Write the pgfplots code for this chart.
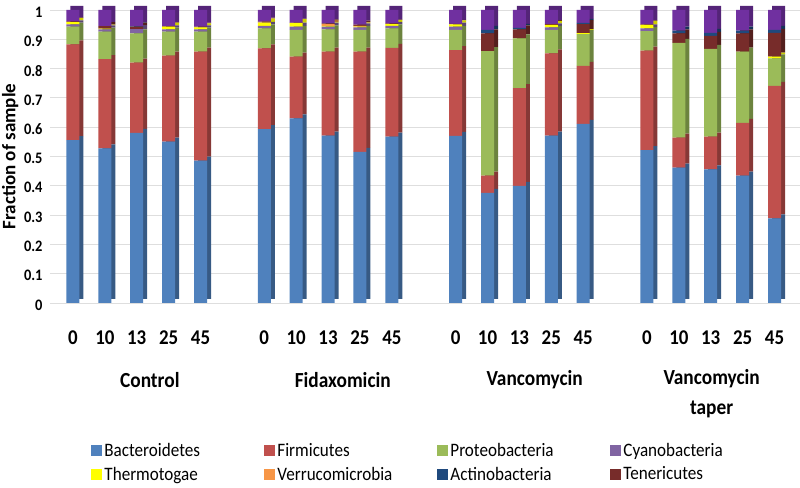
\documentclass[border=0pt]{standalone}
\usepackage{fontspec}
\setmainfont{Carlito}[FakeStretch=0.9]
\newfontfamily\widefont{Carlito}
\usepackage{pgfplots}
\usepackage{pgfplotstable}
\pgfplotsset{compat=1.18}
\definecolor{cB}{HTML}{4F81BD}
\definecolor{cF}{HTML}{C0504D}
\definecolor{cP}{HTML}{9BBB59}
\definecolor{cC}{HTML}{8064A2}
\definecolor{cT}{HTML}{FFFF00}
\definecolor{cV}{HTML}{F79646}
\definecolor{cA}{HTML}{1F497D}
\definecolor{cTen}{HTML}{772C2A}
\definecolor{cO}{HTML}{7030A0}
\pgfplotstableread{
x B F P C T V Ten A O
0 .556 .327 .060 .008 .008 0 .002 0 .039
1 .528 .304 .094 .008 .002 0 .009 0 .055
2 .581 .239 .100 .015 0 0 .008 .002 .055
3 .551 .293 .082 .008 .009 0 .002 0 .055
4 .486 .372 .068 .008 .007 0 .002 0 .057
6 .593 .276 .068 .009 .011 .001 .002 0 .040
7 .630 .211 .091 .011 .012 0 .002 0 .043
8 .571 .287 .076 .009 .003 .006 .002 0 .046
9 .516 .342 .074 .009 .002 .003 .004 0 .050
10 .568 .303 .066 .009 .006 0 .002 0 .046
12 .570 .293 .069 .011 .008 0 .002 0 .047
13 .376 .059 .425 0 0 0 .060 .012 .068
14 .400 .333 .170 0 0 0 .031 .005 .061
15 .571 .281 .080 .009 .008 0 .003 0 .048
16 .611 .198 .109 0 .003 0 .031 .004 .044
18 .522 .339 .067 .009 .012 0 .002 0 .049
19 .462 .102 .324 0 0 0 .032 .010 .070
20 .456 .112 .299 0 0 0 .045 .010 .078
21 .435 .180 .243 0 0 0 .062 .010 .070
22 .289 .452 .094 0 .006 0 .081 .010 .068
}\datatable
\pgfplotsset{
  common/.style={
    anchor=south west,
    scale only axis, width=750pt, height=293pt,
    xmin=-0.72, xmax=22.8, ymin=0, ymax=1,
    clip=false,
  },
  barsax/.style={common, ybar stacked, bar width=13pt, hide axis},
}
\begin{document}
\begin{tikzpicture}
\useasboundingbox (0,0) rectangle (800pt,487pt);
% background axis: grid, labels, legend
\begin{axis}[
  common, at={(50pt,184pt)},
  axis line style={draw=none},
  major tick length=0pt,
  ymajorgrids, grid style={draw=black!13, line width=0.8pt},
  ytick={0,0.1,...,1.01},
  yticklabel style={font=\fontsize{16}{18}\selectfont\bfseries, /pgf/number format/assume math mode=true, /pgf/number format/fixed, xshift=-4pt, yshift=-2pt},
  xtick={0,1,2,3,4,6,7,8,9,10,12,13,14,15,16,18,19,20,21,22},
  xticklabels={0,10,13,25,45,0,10,13,25,45,0,10,13,25,45,0,10,13,25,45},
  xticklabel style={font=\fontsize{21}{24}\selectfont\bfseries, yshift=-24pt},
  ylabel={Fraction of sample},
  ylabel style={font=\fontsize{19}{22}\selectfont\widefont\bfseries, at={(axis description cs:-0.053,0.5)}, anchor=center},
  legend columns=4,
  legend style={draw=none, at={(axis description cs:0.055,-0.4707)}, anchor=north west,
    font=\fontsize{19}{22}\selectfont, row sep=5pt, inner sep=0pt},
  legend cell align=left,
]
\pgfplotsset{sq/.style={legend image code/.code={\fill[##1] (0pt,-5.5pt) rectangle (11pt,5.5pt);}}}
\addlegendimage{sq, fill=cB, draw=none}
\addlegendimage{sq, fill=cF, draw=none}
\addlegendimage{sq, fill=cP, draw=none}
\addlegendimage{sq, fill=cC, draw=none}
\addlegendimage{sq, fill=cT, draw=none}
\addlegendimage{sq, fill=cV, draw=none}
\addlegendimage{sq, fill=cA, draw=none}
\addlegendimage{sq, fill=cTen, draw=none}
\legend{\makebox[158pt][l]{Bacteroidetes},\makebox[158pt][l]{Firmicutes},\makebox[158pt][l]{Proteobacteria},\makebox[110pt][l]{Cyanobacteria},
        \makebox[158pt][l]{Thermotogae},\makebox[158pt][l]{Verrucomicrobia},\makebox[158pt][l]{Actinobacteria},\makebox[110pt][l]{Tenericutes}}
\node[font=\fontsize{21.5}{24}\selectfont\bfseries] at (axis cs:2.41,0) [yshift=-77pt] {Control};
\node[font=\fontsize{21.5}{24}\selectfont\bfseries] at (axis cs:8.46,0) [yshift=-77pt] {Fidaxomicin};
\node[font=\fontsize{21.5}{24}\selectfont\bfseries] at (axis cs:14.48,0) [yshift=-77pt] {Vancomycin};
\node[font=\fontsize{21.5}{30}\selectfont\bfseries, align=center, anchor=north] at (axis cs:20.03,0) [yshift=-63pt] {Vancomycin\\taper};
\end{axis}
% 3D side of the bars (darker, offset)
\begin{axis}[barsax, at={(54pt,188pt)}]
\addplot[fill=cB!70!black, draw=none] table[x=x, y=B] {\datatable};
\addplot[fill=cF!70!black, draw=none] table[x=x, y=F] {\datatable};
\addplot[fill=cP!70!black, draw=none] table[x=x, y=P] {\datatable};
\addplot[fill=cC!70!black, draw=none] table[x=x, y=C] {\datatable};
\addplot[fill=cT!80!black, draw=none] table[x=x, y=T] {\datatable};
\addplot[fill=cV!70!black, draw=none] table[x=x, y=V] {\datatable};
\addplot[fill=cTen!70!black, draw=none] table[x=x, y=Ten] {\datatable};
\addplot[fill=cA!70!black, draw=none] table[x=x, y=A] {\datatable};
\addplot[fill=cO!75!black, draw=none] table[x=x, y=O] {\datatable};
\end{axis}
% front of the bars
\begin{axis}[barsax, at={(50pt,184pt)}]
\addplot[fill=cB, draw=none] table[x=x, y=B] {\datatable};
\addplot[fill=cF, draw=none] table[x=x, y=F] {\datatable};
\addplot[fill=cP, draw=none] table[x=x, y=P] {\datatable};
\addplot[fill=cC, draw=none] table[x=x, y=C] {\datatable};
\addplot[fill=cT, draw=none] table[x=x, y=T] {\datatable};
\addplot[fill=cV, draw=none] table[x=x, y=V] {\datatable};
\addplot[fill=cTen, draw=none] table[x=x, y=Ten] {\datatable};
\addplot[fill=cA, draw=none] table[x=x, y=A] {\datatable};
\addplot[fill=cO, draw=none] table[x=x, y=O] {\datatable};
\end{axis}
\end{tikzpicture}
\end{document}
